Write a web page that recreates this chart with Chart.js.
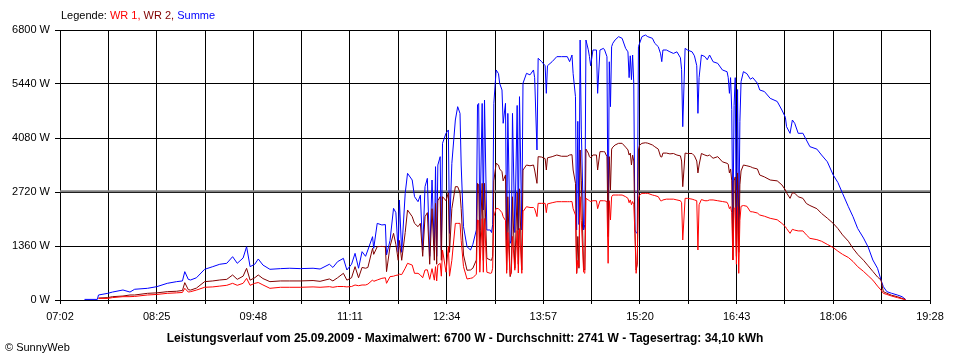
<!DOCTYPE html>
<html>
<head>
<meta charset="utf-8">
<script src="https://cdn.jsdelivr.net/npm/chart.js@4.4.0/dist/chart.umd.min.js"></script>
<style>
  html, body { margin: 0; padding: 0; background: #fff; }
  #wrap { position: relative; width: 960px; height: 360px; }
  #legend { position: absolute; left: 61px; top: 9px; font: 11px "Liberation Sans", Arial, sans-serif; color: #000; white-space: nowrap; }
  #copy { position: absolute; left: 5px; top: 341px; font: 11px "Liberation Sans", Arial, sans-serif; color: #000; }
</style>
</head>
<body>
<div id="wrap">
  <canvas id="chart" width="960" height="360"></canvas>
  <div id="legend">Legende: <span style="color:#ff0000">WR 1,</span> <span style="color:#800000">WR 2,</span> <span style="color:#0000ff">Summe</span></div>
  <div id="copy">&copy; SunnyWeb</div>
</div>
<script>
// x axis: 07:02 .. 19:28, labels on every second grid line
const xTickLabels = ['07:02', '08:25', '09:48', '11:11', '12:34', '13:57', '15:20', '16:43', '18:06', '19:28'];
const xStart = '07:02';
const xEnd = '19:28';
const yMax = 6800;
const yStep = 1360;
const averageW = 2741;

const times = [
  '07:23','07:34','07:35','07:43','07:47','07:56','08:02','08:06','08:17','08:25',
  '08:34','08:42','08:47','08:49','08:52','08:54','08:59','09:06','09:13','09:19',
  '09:25','09:30','09:34','09:39','09:42','09:45','09:49','09:52','09:56','10:02',
  '10:11','10:19','10:28','10:39','10:45','10:53','10:56','11:00','11:05','11:08',
  '11:12','11:15','11:18','11:21','11:24','11:26','11:30','11:31','11:34','11:38',
  '11:41','11:42','11:45','11:48','11:50','11:52','11:53','11:55','11:58','12:00',
  '12:04','12:06','12:09','12:11','12:13','12:15','12:17','12:19','12:21','12:23',
  '12:24','12:25','12:26','12:28','12:29','12:30','12:33','12:35','12:36','12:38',
  '12:41','12:43','12:45','12:46','12:48','12:51','12:54','12:56','12:59','13:00',
  '13:01','13:02','13:04','13:05','13:06','13:08','13:11','13:12','13:13','13:14',
  '13:16','13:18','13:19','13:21','13:22','13:24','13:25','13:26','13:28','13:29',
  '13:30','13:32','13:34','13:35','13:36','13:38','13:39','13:42','13:45','13:48',
  '13:49','13:51','13:52','13:55','13:58','13:59','14:00','14:04','14:08','14:12',
  '14:17','14:19','14:21','14:22','14:24','14:25','14:26','14:27','14:28','14:29',
  '14:31','14:32','14:33','14:35','14:36','14:37','14:39','14:42','14:43','14:45',
  '14:48','14:49','14:51','14:52','14:53','14:54','14:55','14:56','14:58','15:01',
  '15:04','15:07','15:09','15:10','15:11','15:12','15:13','15:14','15:15','15:16',
  '15:17','15:18','15:19','15:21','15:24','15:26','15:30','15:32','15:35','15:37',
  '15:38','15:39','15:42','15:45','15:48','15:51','15:54','15:55','15:56','15:58',
  '16:00','16:04','16:06','16:08','16:09','16:10','16:12','16:15','16:17','16:19',
  '16:22','16:26','16:30','16:34','16:35','16:36','16:37','16:38','16:39','16:40',
  '16:41','16:42','16:43','16:44','16:45','16:46','16:48','16:51','16:54','16:56',
  '17:00','17:02','17:06','17:11','17:17','17:21','17:24','17:25','17:28','17:30',
  '17:32','17:35','17:39','17:42','17:45','17:51','17:55','18:00','18:05','18:09',
  '18:13','18:18','18:22','18:26','18:31','18:35','18:39','18:43','18:46','18:48',
  '18:51','18:55','19:00','19:04','19:07'
];

const summe = [
  15,15,126,168,200,252,200,270,294,336,
  420,462,480,714,520,504,560,773,840,900,
  924,1091,924,1058,1343,840,900,1033,880,773,
  790,800,790,800,780,900,820,965,1049,756,
  900,1175,800,1217,1100,1260,1595,1300,1930,1890,
  1900,1133,1500,2309,2200,1200,2518,1200,2686,3190,
  3022,2602,2476,2640,1259,2854,3064,1100,3022,1250,
  3358,1100,3400,3610,1259,3946,4200,4282,1679,3442,
  4533,4869,4700,3400,1847,1343,1259,1400,1763,4911,
  4950,1763,4950,2267,5037,1763,1763,1700,1900,4953,
  5793,5700,5457,5289,4450,4953,1511,4700,1427,1500,
  4700,1700,4900,1763,5121,1763,5457,5709,5670,5793,
  5600,3778,6087,6003,5900,5205,5900,6003,6129,6129,
  6129,6003,6170,5700,5121,1763,4500,1900,6548,4282,
  1763,1900,6548,6300,6129,5900,6296,6296,5205,6296,
  6338,6296,6129,1679,6000,4869,6380,6465,6550,6632,
  6590,6338,6250,5600,6150,5550,6170,5457,1763,1700,
  1679,6380,6465,6632,6674,6632,6590,6465,6380,6200,
  6003,6296,6296,6250,6210,6250,6100,5800,4365,6338,
  6296,6250,6150,5900,4701,5600,6170,6130,6050,6170,
  6000,5960,5793,5750,5600,5205,5600,4800,1763,4900,
  5600,1343,5300,1679,4500,5500,5751,5700,5560,5600,
  5460,5289,5250,5079,5000,4785,4600,4365,4197,4533,
  4450,4197,4200,4030,3862,3800,3652,3480,3148,2960,
  2686,2350,2098,1800,1560,1330,1007,798,504,336,
  210,170,126,84,17
];

const wr2 = [
  null,null,50,60,84,100,126,126,168,180,
  210,220,240,437,260,250,300,462,480,504,
  520,630,520,600,798,500,560,630,540,462,
  480,480,480,490,470,530,480,560,672,500,
  560,840,560,820,800,820,1301,1150,1343,1350,
  1340,714,1350,1679,1400,1000,1500,1000,1700,2267,
  2100,1930,1847,1930,1100,2098,2200,900,2300,1000,
  2434,900,2500,2602,1000,2602,2500,2700,1200,2300,
  2854,2854,2700,2300,1133,750,756,800,1007,2938,
  2900,1100,2938,1000,2938,1050,1007,1000,1100,3000,
  3442,3400,3300,3232,3000,3150,756,2600,588,700,
  2600,800,2700,900,2800,756,3274,3400,3380,3400,
  3274,2938,3610,3600,3560,3274,3580,3610,3652,3620,
  3620,3652,3660,3274,2938,672,1600,800,3778,3000,
  800,756,3800,3700,3610,3580,3652,3652,3274,3736,
  3736,3736,3610,1595,3610,2770,3800,3850,3904,3946,
  3946,3850,3780,3650,3700,3400,3650,3500,1763,756,
  900,3778,3900,3946,3960,3950,3904,3860,3800,3610,
  3600,3700,3700,3680,3690,3650,3630,3500,2854,3700,
  3690,3690,3630,3500,3200,3400,3690,3650,3630,3650,
  3570,3610,3480,3442,3420,3200,3300,3000,1007,3000,
  3100,1100,3200,1200,2900,3250,3400,3380,3358,3330,
  3300,3148,3100,3022,3000,2900,2770,2700,2560,2700,
  2690,2600,2560,2430,2380,2300,2180,2060,1930,1800,
  1640,1480,1300,1150,1000,860,720,580,500,210,
  170,120,84,40,10
];

const wr1 = [
  null,null,40,40,60,84,84,90,126,140,
  168,180,190,294,200,210,250,320,330,350,
  370,420,370,420,546,370,420,440,380,294,
  320,320,320,330,320,336,320,340,340,330,
  340,378,360,378,378,400,504,470,504,546,
  560,420,588,600,620,630,650,640,800,924,
  880,672,672,630,560,756,760,520,790,500,
  840,480,880,924,600,1259,700,1350,600,1000,
  1930,1930,1930,1500,840,530,546,560,650,2015,
  2000,700,2050,700,2050,700,672,680,800,2100,
  2309,2300,2270,2200,2098,2000,672,1700,620,700,
  1600,750,1750,680,1800,672,2224,2350,2330,2330,
  2300,2100,2434,2434,2434,2200,2420,2450,2476,2476,
  2476,2476,2480,2300,2140,672,1000,840,2602,2000,
  700,672,2560,2520,2500,2480,2500,2500,2300,2500,
  2500,2500,2480,924,2500,2015,2600,2644,2644,2644,
  2644,2602,2560,2450,2520,2400,2480,2400,1679,672,
  1000,2560,2644,2686,2686,2686,2644,2630,2602,2500,
  2500,2520,2540,2540,2540,2520,2500,2450,1511,2560,
  2560,2540,2520,2500,1259,2400,2530,2500,2500,2520,
  2520,2500,2480,2460,2400,2300,2350,2200,1007,2300,
  2330,900,2350,672,2000,2360,2380,2360,2224,2220,
  2190,2141,2110,2057,2020,1930,1847,1800,1679,1780,
  1760,1740,1740,1640,1553,1520,1480,1400,1320,1230,
  1150,1070,970,840,720,610,500,350,250,168,
  140,100,60,30,10
];

function toMin(t) {
  const [h, m] = t.split(':').map(Number);
  return h * 60 + m;
}

const xMinVal = toMin(xStart);
const xMaxVal = toMin(xEnd);
const gridCount = (xTickLabels.length - 1) * 2;

const series = (values) => times.map((t, i) => ({ x: toMin(t), y: values[i] }));
const baseFont = { family: '"Liberation Sans", Arial, sans-serif', size: 11 };

new Chart(document.getElementById('chart'), {
  type: 'line',
  data: {
    datasets: [
      { label: 'WR 1', data: series(wr1), borderColor: '#ff0000', borderWidth: 1 },
      { label: 'WR 2', data: series(wr2), borderColor: '#800000', borderWidth: 1 },
      { label: 'Summe', data: series(summe), borderColor: '#0000ff', borderWidth: 1 },
      { label: 'Durchschnitt', data: [{ x: xMinVal, y: averageW }, { x: xMaxVal, y: averageW }],
        borderColor: '#808080', borderWidth: 2 },
    ],
  },
  options: {
    responsive: false,
    animation: false,
    events: [],
    layout: { padding: { top: 30, right: 30, left: 0, bottom: 0 } },
    elements: { point: { radius: 0 }, line: { tension: 0, fill: false } },
    plugins: {
      legend: { display: false },
      tooltip: { enabled: false },
      title: {
        display: true,
        position: 'bottom',
        text: 'Leistungsverlauf vom 25.09.2009 - Maximalwert: 6700 W - Durchschnitt: 2741 W - Tagesertrag: 34,10 kWh',
        color: '#000',
        font: { family: '"Liberation Sans", Arial, sans-serif', size: 12, weight: 'bold' },
        padding: { top: 3, bottom: 14.6 },
      },
    },
    scales: {
      x: {
        type: 'linear',
        min: xMinVal,
        max: xMaxVal,
        afterBuildTicks: (scale) => {
          scale.ticks = Array.from({ length: gridCount + 1 }, (_, i) => ({
            value: xMinVal + i * (xMaxVal - xMinVal) / gridCount,
          }));
        },
        afterFit: (scale) => { scale.height = 28; },
        grid: { color: '#000', lineWidth: 1, tickLength: 4, drawTicks: true },
        border: { color: '#000', width: 1 },
        ticks: {
          autoSkip: false,
          maxRotation: 0,
          padding: 6,
          color: '#000',
          font: baseFont,
          callback: (value, index) => (index % 2 === 0 ? xTickLabels[index / 2] : ''),
        },
      },
      y: {
        min: 0,
        max: yMax,
        afterFit: (scale) => { scale.width = 60; },
        grid: { color: '#000', lineWidth: 1, tickLength: 5, drawTicks: true },
        border: { color: '#000', width: 1 },
        ticks: {
          stepSize: yStep,
          padding: 5,
          color: '#000',
          font: baseFont,
          callback: (value) => value + ' W',
        },
      },
    },
  },
});
</script>
</body>
</html>
